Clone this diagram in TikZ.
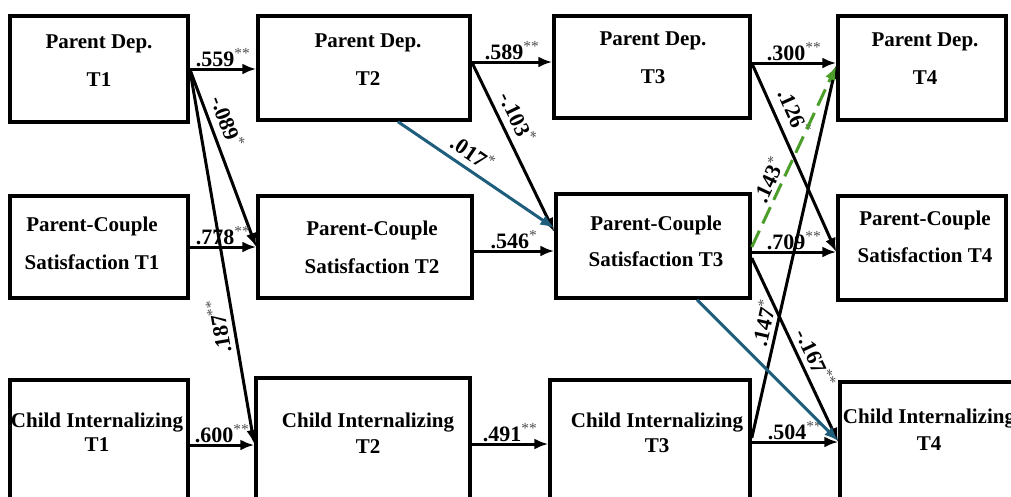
\documentclass[tikz,border=0pt]{standalone}
\usepackage{fontspec}
\setmainfont{Liberation Serif}
\usetikzlibrary{arrows.meta}
\definecolor{pathblue}{RGB}{30,94,124}
\definecolor{pathgreen}{RGB}{76,158,42}
\definecolor{stargray}{RGB}{80,80,80}
\newcommand{\sig}[1]{\textsuperscript{\textcolor{stargray}{\mdseries #1}}}
\tikzset{
  varbox/.style={draw, line width=3.5pt, inner sep=0pt},
  vartext/.style={align=center, font=\fontsize{21}{24}\selectfont\bfseries, inner sep=0pt},
  arr/.style={line width=3pt, -{Latex[length=14pt,width=11pt]}},
  rarr/.style={line width=3pt, {Latex[length=14pt,width=11pt]}-},
  coef/.style={font=\fontsize{22}{24}\selectfont\bfseries, inner sep=1pt},
}
\begin{document}
\begin{tikzpicture}[x=1pt,y=-1pt]
\useasboundingbox (0,0) rectangle (1011,496);
\clip (0,0) rectangle (1011,496);

% Parent Dep. row
\node[varbox, minimum width=178pt, minimum height=106pt] (PD1) at (99,69) {};
\node[varbox, minimum width=212pt, minimum height=104pt] (PD2) at (364,68) {};
\node[varbox, minimum width=196pt, minimum height=102pt] (PD3) at (652,67) {};
\node[varbox, minimum width=168pt, minimum height=104pt] (PD4) at (922,68) {};
\node[vartext] (PD1t) at (99,61) {Parent Dep.\\[14pt]T1};
\node[vartext] (PD2t) at (368,60) {Parent Dep.\\[14pt]T2};
\node[vartext] (PD3t) at (653,57.5) {Parent Dep.\\[14pt]T3};
\node[vartext] (PD4t) at (925,59) {Parent Dep.\\[14pt]T4};

% Parent-Couple row
\node[varbox, minimum width=178pt, minimum height=102pt] (PCS1) at (99,247) {};
\node[varbox, minimum width=214pt, minimum height=102pt] (PCS2) at (365,247) {};
\node[varbox, minimum width=194pt, minimum height=104pt] (PCS3) at (653,246) {};
\node[varbox, minimum width=168pt, minimum height=104pt] (PCS4) at (922,248) {};
\node[vartext] (PCS1t) at (92,243) {Parent-Couple\\[14pt]Satisfaction T1};
\node[vartext] (PCS2t) at (372,247) {Parent-Couple\\[14pt]Satisfaction T2};
\node[vartext] (PCS3t) at (656,241) {Parent-Couple\\[12pt]Satisfaction T3};
\node[vartext] (PCS4t) at (925,236.5) {Parent-Couple\\[13pt]Satisfaction T4};

% Child Internalizing row (boxes run past the lower edge)
\node[varbox, minimum width=178pt, minimum height=130pt] (CI1) at (99,445) {};
\node[varbox, minimum width=214pt, minimum height=132pt] (CI2) at (363,444) {};
\node[varbox, minimum width=200pt, minimum height=130pt] (CI3) at (650,445) {};
\node[varbox, minimum width=180pt, minimum height=128pt] (CI4) at (930,446) {};
\node[vartext] (CI1t) at (97,432) {Child Internalizing\\[0pt]T1};
\node[vartext] (CI2t) at (368,433) {Child Internalizing\\[2pt]T2};
\node[vartext] (CI3t) at (657,432.5) {Child Internalizing\\[1pt]T3};
\node[vartext] (CI4t) at (929,430) {Child Internalizing\\[3pt]T4};

% T1 -> T2
\draw[arr] (PD1.east) -- node[coef, above] {.559\sig{**}} (PD1.east -| PD2.west);
\draw[arr] (PD1.east) -- node[coef, sloped, pos=.33, above=6pt] {-.089\sig{*}} (PCS2.west);
\draw[rarr] (CI2.west) -- node[coef, sloped, allow upside down, pos=.32, above=4pt] {.187\sig{**}} (PD1.east);
\draw[arr] (PCS1.east) -- node[coef, above] {.778\sig{**}} (PCS1.east -| PCS2.west);
\draw[arr] (CI1.east) -- node[coef, above] {.600\sig{**}} (CI1.east -| CI2.west);

% T2 -> T3
\draw[arr] ([yshift=6pt]PD2.east) -- node[coef, above] {.589\sig{**}} ([yshift=6pt]PD2.east -| PD3.west);
\draw[arr] ([yshift=6pt]PD2.east) -- node[coef, sloped, pos=.37, above=6pt] {-.103\sig{*}} ([yshift=14pt]PCS3.west);
\draw[arr] ([yshift=-4pt]PCS2.east) -- node[coef, above] {.546\sig{*}} ([yshift=-4pt]PCS2.east -| PCS3.west);
\draw[arr] (CI2.east) -- node[coef, above] {.491\sig{**}} (CI2.east -| CI3.west);
\draw[arr, pathblue] ([xshift=34pt]PD2.south) -- node[coef, black, sloped, pos=.42, above=5pt] {.017\sig{*}} ([yshift=18pt]PCS3.west);

% T3 -> T4
\draw[arr] ([yshift=4pt]PD3.east) -- node[coef, above] {.300\sig{**}} ([yshift=4pt]PD3.east -| PD4.west);
\draw[arr] ([yshift=4pt]PD3.east) -- node[coef, sloped, pos=.30, above=8pt] {.126\sig{*}} ([yshift=-4pt]PCS4.west);
\draw[arr] ([yshift=-6pt]PCS3.east) -- node[coef, above] {.709\sig{**}} ([yshift=-6pt]PCS3.east -| PCS4.west);
\draw[arr] ([yshift=-12pt]PCS3.east) -- node[coef, sloped, pos=.58, above=4pt] {-.167\sig{**}} ([yshift=4pt]CI4.west);
\draw[arr] ([yshift=7pt]CI3.east) -- node[coef, sloped, pos=.30, above=3pt] {.147\sig{*}} ([yshift=3pt]PD4.west);
\draw[arr] ([yshift=3pt]CI3.east) -- node[coef, above] {.504\sig{**}} ([yshift=3pt]CI3.east -| CI4.west);
\draw[arr, pathgreen, dash pattern=on 18pt off 8pt] ([yshift=-1pt]PCS3.east) -- node[coef, black, sloped, pos=.34, above=2pt] {.143\sig{*}} ([yshift=2pt]PD4.west);
\draw[arr, pathblue] ([xshift=44pt]PCS3.south) -- ([yshift=5pt]CI4.west);
\end{tikzpicture}
\end{document}
